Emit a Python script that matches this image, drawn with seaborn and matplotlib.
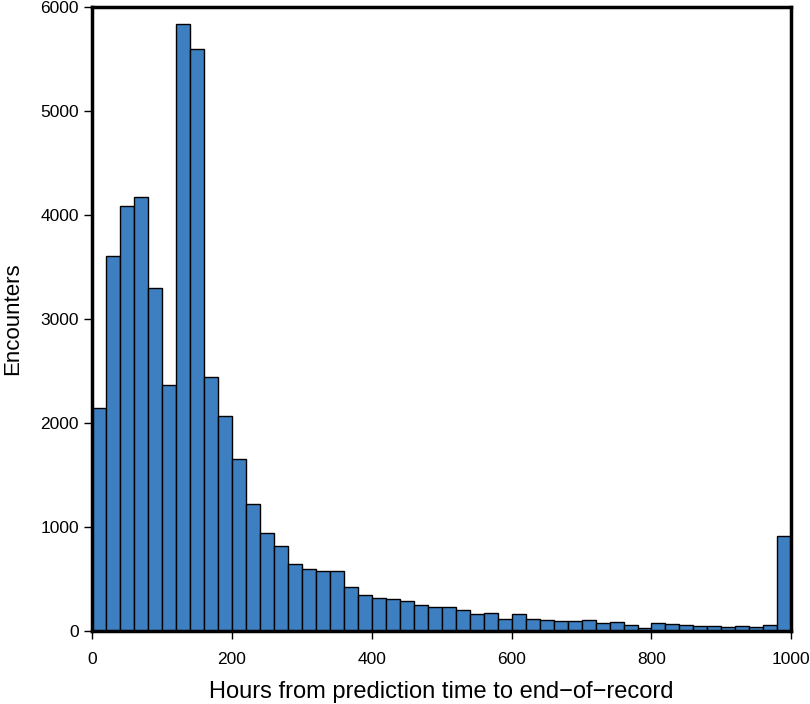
import numpy as np
import pandas as pd
import matplotlib
matplotlib.use('Agg')
import matplotlib.pyplot as plt
import seaborn as sns

# bin edges in hours (20 h bins) and counts
bin_edges = list(range(0, 1001, 20))
counts = [2140, 3610, 4090, 4170, 3300, 2370, 5840, 5600, 2440, 2070,
          1650, 1220, 940, 820, 640, 600, 580, 580, 420, 350,
          320, 310, 290, 250, 230, 230, 200, 160, 175, 120,
          160, 120, 110, 100, 95, 105, 80, 85, 60, 30,
          75, 70, 55, 50, 45, 35, 45, 40, 55, 910]
x_ticks = [0, 200, 400, 600, 800, 1000]
y_ticks = [0, 1000, 2000, 3000, 4000, 5000, 6000]

sns.set_style('white')
plt.rcParams['font.family'] = ['Liberation Sans', 'DejaVu Sans']

df = pd.DataFrame({
    'hours': [(bin_edges[i] + bin_edges[i + 1]) / 2 for i in range(len(counts))],
    'n': counts,
})

fig = plt.figure(figsize=(8.1, 7.04), dpi=100)
ax = fig.add_axes([0.1136, 0.1037, 0.8634, 0.8863])
sns.histplot(data=df, x='hours', weights='n', bins=bin_edges, ax=ax,
             color='#3d7fc1', alpha=1, edgecolor='black', linewidth=1)

ax.set_xlim(0, 1000)
ax.set_ylim(0, 6000)
ax.set_xticks(x_ticks)
ax.set_yticks(y_ticks)
ax.tick_params(axis='both', direction='out', length=6, width=1, labelsize=12.5,
               bottom=True, left=True, color='black', labelcolor='black')
ax.tick_params(axis='x', pad=9)
for s in ax.spines.values():
    s.set_linewidth(2.5)
    s.set_color('black')
ax.set_xlabel('Hours from prediction time to end\u2212of\u2212record', fontsize=17,
              labelpad=10, color='black')
ax.set_ylabel('Encounters', fontsize=16, labelpad=12, color='black')

fig.savefig('out.png', dpi=100)
